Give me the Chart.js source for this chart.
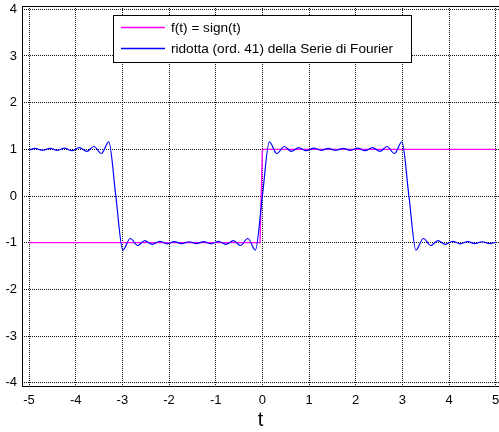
<!DOCTYPE html>
<html lang="it">
<head>
    <meta charset="UTF-8">
    <title>Serie di Fourier</title>
    <script src="https://cdn.jsdelivr.net/npm/chart.js"></script>
    <style>
        html, body { margin: 0; padding: 0; background: #fff; overflow: hidden; }
    </style>
</head>
<body>
    <canvas id="fourierChart" width="499" height="432"></canvas>

    <script>
        // sign(t)
        const signT = [-5, -0.05, 0, 5];
        const signY = [-1, -1, 1, 1];

        // partial sum (peaks / troughs)
        const fourierT = [
            -5.00, -4.87, -4.71, -4.55, -4.39, -4.24, -4.08, -3.92, -3.76, -3.61, -3.45, -3.29, -3.14,
            -2.99, -2.83, -2.67, -2.52, -2.36, -2.20, -2.04, -1.89, -1.73, -1.57, -1.41, -1.26,
            -1.10, -0.94, -0.78, -0.62, -0.47, -0.31, -0.15, 0,
            0.15, 0.31, 0.47, 0.62, 0.78, 0.94, 1.10, 1.26, 1.41, 1.57, 1.73, 1.89,
            2.04, 2.20, 2.36, 2.52, 2.67, 2.83, 2.99, 3.14,
            3.29, 3.45, 3.61, 3.76, 3.92, 4.08, 4.24, 4.40, 4.55, 4.71, 4.87, 5.00
        ];
        const fourierY = [
            0.985, 1.02, 0.98, 1.02, 0.978, 1.025, 0.97, 1.035, 0.955, 1.06, 0.91, 1.16, 0,
            -1.16, -0.91, -1.06, -0.955, -1.035, -0.97, -1.025, -0.978, -1.02, -0.98, -1.02, -0.978,
            -1.025, -0.97, -1.035, -0.955, -1.06, -0.91, -1.16, 0,
            1.16, 0.91, 1.06, 0.955, 1.035, 0.97, 1.025, 0.978, 1.02, 0.98, 1.02, 0.978,
            1.025, 0.97, 1.035, 0.955, 1.06, 0.91, 1.16, 0,
            -1.16, -0.91, -1.06, -0.955, -1.035, -0.97, -1.025, -0.978, -1.02, -0.98, -1.02, -0.99
        ];

        const xTicks = [-5, -4, -3, -2, -1, 0, 1, 2, 3, 4, 5];
        const yTicks = [-4, -3, -2, -1, 0, 1, 2, 3, 4];

        const seriesNames = ['f(t) = sign(t)', 'ridotta (ord. 41) della Serie di Fourier'];
        const seriesColors = ['#ff00ff', '#0000ff'];

        const FONT = '"Liberation Sans", Arial, sans-serif';

        function toPoints(xs, ys) {
            return xs.map((x, i) => ({ x: x, y: ys[i] }));
        }

        // axes box + legend drawn like the matlab figure
        const boxPlugin = {
            id: 'boxAndLegend',
            afterDatasetsDraw(chart) {
                const a = chart.chartArea;
                const ctx = chart.ctx;
                ctx.save();
                ctx.setLineDash([]);
                ctx.strokeStyle = '#000';
                ctx.lineWidth = 1;
                ctx.strokeRect(Math.round(a.left) + 0.5, Math.round(a.top) + 0.5,
                    Math.round(a.right - a.left), Math.round(a.bottom - a.top));
                ctx.restore();
            },
            afterDraw(chart) {
                const ctx = chart.ctx;
                ctx.save();
                ctx.setLineDash([]);
                ctx.fillStyle = '#fff';
                ctx.fillRect(113, 15, 298, 47);
                ctx.strokeStyle = '#000';
                ctx.lineWidth = 1;
                ctx.strokeRect(113.5, 15.5, 298, 47);
                const rows = [27, 48];
                ctx.font = '13.6px ' + FONT;
                ctx.textBaseline = 'middle';
                ctx.textAlign = 'left';
                rows.forEach((y, i) => {
                    ctx.strokeStyle = seriesColors[i];
                    ctx.lineWidth = 1.3;
                    ctx.beginPath();
                    ctx.moveTo(121, y + 0.5);
                    ctx.lineTo(165, y + 0.5);
                    ctx.stroke();
                    ctx.fillStyle = '#000';
                    ctx.fillText(seriesNames[i], 171, y + 1);
                });
                ctx.restore();
            }
        };

        const ctx = document.getElementById('fourierChart').getContext('2d');
        const chart = new Chart(ctx, {
            type: 'line',
            data: {
                datasets: [{
                    label: seriesNames[0],
                    data: toPoints(signT, signY),
                    borderColor: seriesColors[0],
                    borderWidth: 1.3,
                    pointRadius: 0,
                    tension: 0,
                    order: 2
                }, {
                    label: seriesNames[1],
                    data: toPoints(fourierT, fourierY),
                    borderColor: seriesColors[1],
                    borderWidth: 1.2,
                    pointRadius: 0,
                    cubicInterpolationMode: 'monotone',
                    order: 1
                }]
            },
            options: {
                responsive: false,
                animation: false,
                devicePixelRatio: 1,
                layout: { padding: { top: 6, right: 0, left: 0, bottom: 0 } },
                plugins: {
                    legend: { display: false },
                    tooltip: { enabled: false }
                },
                scales: {
                    x: {
                        type: 'linear',
                        min: -5.15,
                        max: 5.07,
                        afterBuildTicks: s => { s.ticks = xTicks.map(v => ({ value: v })); },
                        afterFit: s => { s.height = 46; s.paddingLeft = 0; s.paddingRight = 0; },
                        grid: { color: '#111', drawTicks: false },
                        border: { display: false, dash: [1, 1] },
                        ticks: {
                            color: '#000',
                            font: { family: FONT, size: 13 },
                            padding: 7,
                            maxRotation: 0,
                            autoSkip: false
                        },
                        title: {
                            display: true,
                            text: 't',
                            color: '#000',
                            font: { family: FONT, size: 20 },
                            padding: { top: 0, bottom: 0 }
                        }
                    },
                    y: {
                        type: 'linear',
                        min: -4.07,
                        max: 4.07,
                        afterBuildTicks: s => { s.ticks = yTicks.map(v => ({ value: v })); },
                        afterFit: s => { s.width = 22; s.paddingTop = 0; s.paddingBottom = 0; },
                        grid: { color: '#111', drawTicks: false },
                        border: { display: false, dash: [1, 1] },
                        ticks: {
                            color: '#000',
                            font: { family: FONT, size: 13 },
                            padding: 5
                        }
                    }
                }
            },
            plugins: [boxPlugin]
        });
    </script>
</body>
</html>
